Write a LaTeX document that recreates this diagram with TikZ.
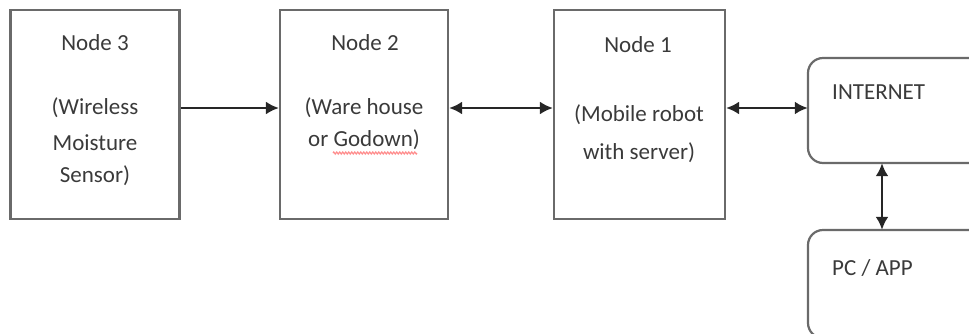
\documentclass[tikz,border=0pt]{standalone}
\usepackage{fontspec}
\setmainfont{Carlito}
\usetikzlibrary{arrows.meta,decorations.pathmorphing}
\definecolor{boxline}{HTML}{6A6A6A}
\definecolor{txt}{HTML}{3A3A3A}
\tikzset{
  box/.style={draw=boxline, line width=2.2pt, minimum height=209pt, inner sep=0pt},
  roundbox/.style={draw=boxline, line width=2.2pt, rounded corners=15pt},
  lbl/.style={text=txt, font=\fontsize{23}{28}\selectfont, inner sep=0pt},
  tip/.tip={Latex[length=13pt,width=13pt]},
  link/.style={line width=2.5pt, draw=black!85, arrows={-tip}},
  biglink/.style={link, arrows={tip-tip}}
}
\begin{document}
\begin{tikzpicture}[x=1pt,y=-1pt]
\useasboundingbox (0,0) rectangle (969,333);
% main chain of nodes
\node[box, minimum width=169pt] (n3) at (95,114.5) {};
\node[box, minimum width=168pt] (n2) at (364,114.5) {};
\node[box, minimum width=171pt] (n1) at (639.5,114.5) {};
% internet and client boxes run past the right edge
\draw[roundbox] (1000,58) -- (808,58) -- (808,163) -- (1000,163);
\node[minimum width=182pt, minimum height=105pt, inner sep=0pt] (inet) at (899,110.5) {};
\draw[roundbox] (1000,230) -- (808,230) -- (808,338) -- (1000,338);
\node[minimum width=182pt, minimum height=103pt, inner sep=0pt] (pc) at (899,281.5) {};
% texts
\node[lbl] (t3a) at (95,43) {Node 3};
\node[lbl] (t3b) at (95,108) {(Wireless};
\node[lbl] (t3c) at (95,143) {Moisture};
\node[lbl] (t3d) at (95,176) {Sensor)};
\node[lbl] (t2a) at (365,43) {Node 2};
\node[lbl] (t2b) at (364,108) {(Ware house};
\node[lbl] (t2c) at (364,140) {or Godown)};
\node[lbl] (t1a) at (638,45) {Node 1};
\node[lbl] (t1b) at (639,115) {(Mobile robot};
\node[lbl] (t1c) at (639,153) {with server)};
\node[lbl, anchor=west] (ti) at (832,92) {INTERNET};
\node[lbl, anchor=west] (tp) at (832,268) {PC / APP};
% spelling mark under the last word
\draw[red!45, line width=1.2pt, decorate, decoration={zigzag, amplitude=1pt, segment length=3pt}] (333,153) -- (417,153);
% connectors
\coordinate (row) at (0,108);
\coordinate (col) at (882,0);
\draw[link] (n3.east |- row) -- (n2.west |- row);
\draw[biglink] (n2.east |- row) -- (n1.west |- row);
\draw[biglink] (n1.east |- row) -- (inet.west |- row);
\draw[biglink] (col |- inet.south) -- (col |- pc.north);
\end{tikzpicture}
\end{document}
